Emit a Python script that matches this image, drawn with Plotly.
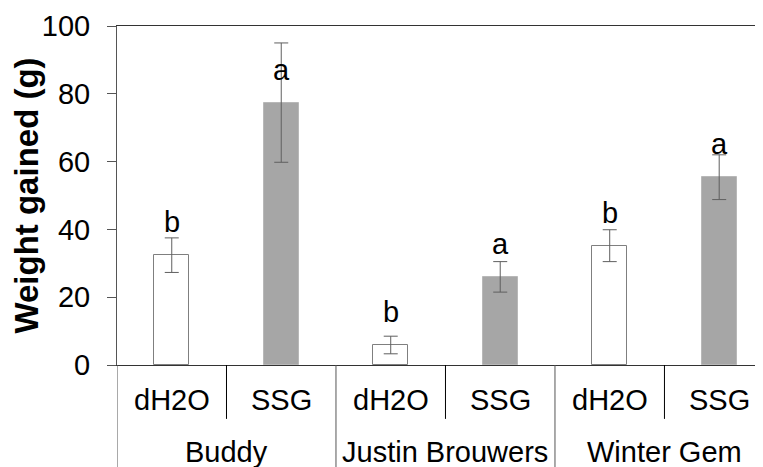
import plotly.graph_objects as go

# ---- data ----
cultivars = ["Buddy", "Justin Brouwers", "Winter Gem"]
treatments = ["dH2O", "SSG"]
dh2o_mean = [32.4, 5.9, 35.2]
dh2o_err = [5.1, 2.6, 4.7]
ssg_mean = [77.4, 26.0, 55.4]
ssg_err = [17.6, 4.5, 6.6]
dh2o_letters = ["b", "b", "b"]
ssg_letters = ["a", "a", "a"]
y_ticks = [0, 20, 40, 60, 80, 100]

FONT = "Arial, 'Liberation Sans', sans-serif"
n = len(cultivars)
x_dh2o = [2 * i for i in range(n)]
x_ssg = [2 * i + 1 for i in range(n)]

fig = go.Figure()
fig.add_trace(go.Bar(
    x=x_dh2o, y=dh2o_mean, width=0.32, name="dH2O",
    marker=dict(color="white", line=dict(color="#7f7f7f", width=1)),
    error_y=dict(type="data", array=dh2o_err, color="#5f5f5f", thickness=1, width=7),
))
fig.add_trace(go.Bar(
    x=x_ssg, y=ssg_mean, width=0.32, name="SSG",
    marker=dict(color="#a6a6a6", line=dict(color="#b8b8b8", width=1)),
    error_y=dict(type="data", array=ssg_err, color="#5f5f5f", thickness=1, width=7),
))

annotations = []
# significance letters
for xs, ys, letters in [(x_dh2o, dh2o_mean, dh2o_letters), (x_ssg, ssg_mean, ssg_letters)]:
    for x, y, t in zip(xs, ys, letters):
        annotations.append(dict(x=x, y=y, xref="x", yref="y", text=t, showarrow=False,
                                yanchor="bottom", yshift=15,
                                font=dict(family=FONT, size=29, color="black")))
# category labels
for i, c in enumerate(cultivars):
    for j, t in enumerate(treatments):
        annotations.append(dict(x=2 * i + j, y=-0.103, xref="x", yref="paper", text=t,
                                showarrow=False, yanchor="middle",
                                font=dict(family=FONT, size=29, color="black")))
    annotations.append(dict(x=2 * i + 0.5, y=-0.256, xref="x", yref="paper", text=c,
                            showarrow=False, yanchor="middle",
                            font=dict(family=FONT, size=29, color="black")))

shapes = []
for i in range(n):
    # short divider between treatments
    shapes.append(dict(type="line", xref="x", yref="paper", x0=2 * i + 0.5, x1=2 * i + 0.5,
                       y0=0, y1=-0.159, line=dict(color="black", width=1)))
    # long divider between cultivars
    shapes.append(dict(type="line", xref="x", yref="paper", x0=2 * i - 0.5, x1=2 * i - 0.5,
                       y0=0, y1=-0.31, line=dict(color="#555555", width=1)))

fig.update_layout(
    width=755, height=459,
    margin=dict(l=109, r=0, t=18, b=102),
    paper_bgcolor="white", plot_bgcolor="white",
    showlegend=False, bargap=0,
    annotations=annotations, shapes=shapes,
    font=dict(family=FONT, size=29, color="black"),
)
fig.update_xaxes(range=[-0.5, 5.4], showticklabels=False, ticks="", showgrid=False,
                 zeroline=False, showline=True, linecolor="#333333", linewidth=1, mirror=True)
fig.update_yaxes(range=[0, 100], tickvals=y_ticks, ticks="outside", ticklen=9,
                 tickcolor="#555555", showgrid=False, zeroline=False, showline=True,
                 linecolor="#555555", linewidth=1,
                 tickfont=dict(family=FONT, size=29, color="black"),
                 ticklabelstandoff=11,
                 title=dict(text="<b>Weight gained (g)</b>", standoff=0,
                            font=dict(family=FONT, size=33, color="black")))

fig.write_html("out.html")
